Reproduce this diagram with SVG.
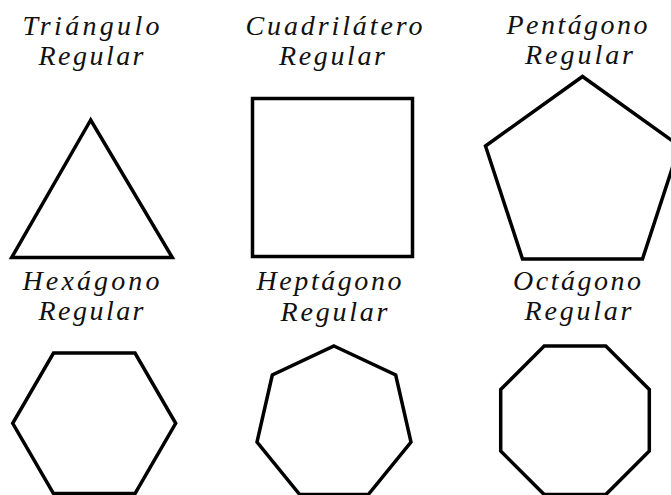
<svg xmlns="http://www.w3.org/2000/svg" width="671" height="495" viewBox="0 0 671 495">
<style>
.lbl{font-family:"Liberation Serif","DejaVu Serif",serif;font-style:italic;font-size:28px;fill:#111;text-anchor:middle}
.shape{fill:none;stroke:#000;stroke-width:3.5;stroke-linejoin:miter}
</style>
<rect width="671" height="495" fill="#fff"/>
<g id="triangulo">
<text class="lbl" x="91" y="35" textLength="137" lengthAdjust="spacing">Triángulo</text>
<text class="lbl" x="91" y="65" textLength="105" lengthAdjust="spacing">Regular</text>
<polygon class="shape" points="90.7,120 11.7,257.5 172.3,257.5"/>
</g>
<g id="cuadrilatero">
<text class="lbl" x="334" y="35" textLength="177" lengthAdjust="spacing">Cuadrilátero</text>
<text class="lbl" x="332" y="65" textLength="106" lengthAdjust="spacing">Regular</text>
<rect class="shape" x="252.5" y="98.5" width="160" height="158"/>
</g>
<g id="pentagono">
<text class="lbl" x="577" y="34" textLength="141" lengthAdjust="spacing">Pentágono</text>
<text class="lbl" x="579" y="64" textLength="108" lengthAdjust="spacing">Regular</text>
<polygon class="shape" points="582.5,76.5 679.5,146 642.5,259 522.5,259 485.5,146"/>
</g>
<g id="hexagono">
<text class="lbl" x="91" y="290" textLength="137" lengthAdjust="spacing">Hexágono</text>
<text class="lbl" x="91" y="320" textLength="105" lengthAdjust="spacing">Regular</text>
<polygon class="shape" points="53.5,353 135,353 175.7,423.3 135,493.6 53.5,493.6 12.7,423.3"/>
</g>
<g id="heptagono">
<text class="lbl" x="329" y="290" textLength="145" lengthAdjust="spacing">Heptágono</text>
<text class="lbl" x="334" y="321" textLength="107" lengthAdjust="spacing">Regular</text>
<polygon class="shape" points="334,346 395.7,375 411,442 368.3,494.5 299.7,494.5 257,442 272.3,375"/>
</g>
<g id="octagono">
<text class="lbl" x="577" y="290" textLength="128" lengthAdjust="spacing">Octágono</text>
<text class="lbl" x="578" y="320" textLength="107" lengthAdjust="spacing">Regular</text>
<polygon class="shape" points="544.2,346 605.8,346 649.3,389.5 649.3,451.1 605.8,494.6 544.2,494.6 500.7,451.1 500.7,389.5"/>
</g>
<g id="connectors"/>
</svg>
